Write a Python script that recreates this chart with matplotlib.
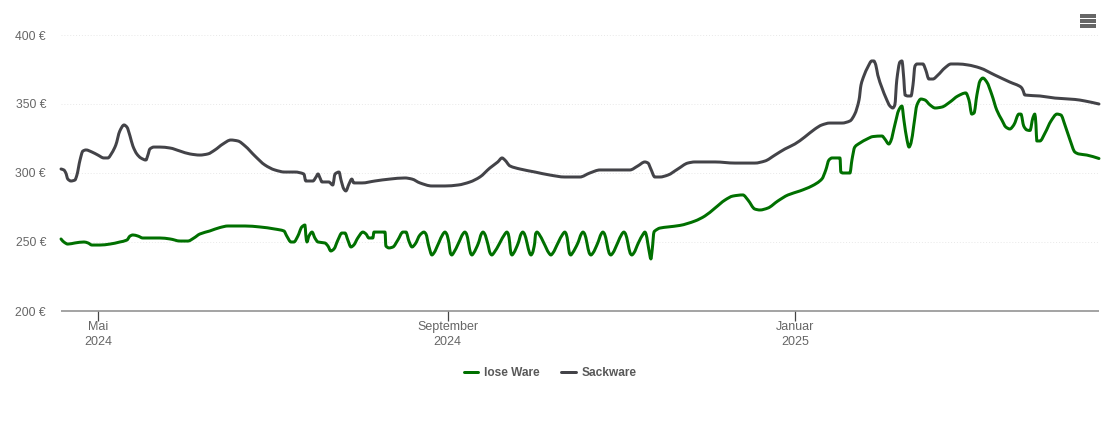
import matplotlib
matplotlib.use("Agg")
import matplotlib.pyplot as plt
from matplotlib.patches import Rectangle, PathPatch
from matplotlib.path import Path

plt.rcParams['font.family'] = ['Liberation Sans', 'DejaVu Sans']

# x values: days since 1 May 2024, y values: euro
tick_days = [0, 123.2, 245.4]
tick_labels = ["Mai\n2024", "September\n2024", "Januar\n2025"]
y_ticks = [200, 250, 300, 350, 400]
y_labels = ["200 €", "250 €", "300 €", "350 €", "400 €"]

sack_days = [-13, -12, -11.3, -10.6, -9.5, -8.1, -7.4, -6.3, -5.3, -4.2, -2.1, 0, 2.1, 3.5, 4.9, 6.3, 7.7, 9.2, 10.2, 11.3,
             12.3, 13.7, 15.1, 16.9, 17.6, 18.3, 19.7, 21.8, 25.4, 28.9, 32.4, 35.9, 38.7, 41.2, 44, 46.8, 49.3, 51.8, 55.3, 58.8,
             62.3, 65.8, 69.4, 72.5, 73.2, 75.7, 76.8, 77.5, 78.2, 78.9, 81.3, 82.7, 83.5, 84.9, 85.6, 86.6, 87.3, 88.4, 89.4, 90.1,
             93, 97.5, 102.8, 108.1, 110.6, 113.4, 117.6, 122.2, 126.8, 131, 134.5, 138, 140.8, 142.3, 143.3, 145.1, 148.6, 153.9, 159.2, 164.4,
             169.7, 173.2, 176.8, 187.3, 190.1, 192.6, 193.7, 194.7, 196.1, 197.9, 200.7, 204.2, 207.7, 210.2, 217.3, 224.3, 231.3, 234.9, 238.4, 241.9,
             245.4, 248.9, 252.5, 254.9, 257.7, 262, 264.8, 266.5, 268, 268.7, 269.7, 271.1, 272.5, 273.2, 273.9, 274.6, 276.1, 277.5, 278.9, 279.9,
             280.6, 281.3, 282.4, 283.1, 283.8, 284.2, 285.2, 286.3, 287, 287.7, 288.4, 290.5, 291.5, 292.6, 294, 295.8, 298.2, 300.4, 302.8, 306.3,
             310.6, 315.8, 321.1, 325, 325.7, 326.4, 331.7, 337, 344, 347.5, 352.5]
sack_euro = [302.9, 302.2, 300, 295.6, 294.2, 294.9, 298.5, 309.4, 315.9, 316.7, 315.2, 313, 310.9, 310.9, 314.5, 320.3, 330.4, 334.8, 333.3, 326.8,
             319.6, 313.8, 310.9, 309.4, 313, 317.4, 318.8, 318.8, 318.1, 315.9, 313.8, 313, 313.8, 316.7, 321, 323.9, 323.2, 319.6, 312.3, 305.8,
             302.2, 300.7, 300.7, 299.3, 294.2, 294.2, 297.1, 299.3, 296.4, 293.5, 293.5, 291.3, 299.3, 300.7, 294.9, 288.4, 287, 292, 295.6, 292.8,
             292.8, 294.2, 295.6, 296.4, 295.6, 292.8, 290.6, 290.6, 291.3, 293.5, 297.1, 303.6, 308, 310.9, 309.4, 305.1, 302.9, 300.7, 298.5, 297.1,
             297.1, 300, 302.2, 302.2, 305.1, 308, 307.2, 302.9, 297.1, 297.1, 298.5, 302.9, 307.2, 308, 308, 307.2, 307.2, 308.7, 313, 317.4,
             321, 326.1, 331.9, 334.8, 336.2, 336.2, 337.7, 342.7, 352.9, 363.8, 370.3, 376.8, 381.2, 381.2, 378.3, 371, 361.6, 354.3, 348.5, 347.1,
             349.3, 367.4, 380.4, 381.2, 367.4, 356.5, 355.8, 355.8, 363.8, 377.5, 379, 379, 374.6, 368.1, 368.1, 371, 376.1, 379, 379, 378.3,
             376.1, 371, 365.9, 362.3, 360.1, 356.5, 355.8, 354.3, 353.3, 352.2, 350]

lose_days = [-13, -12, -10.6, -8.1, -4.9, -3.5, -2.1, 0.7, 4.2, 7.7, 10.2, 11.3, 12.3, 14.1, 15.8, 21.8, 25.4, 28.9, 31.7, 33.8,
             35.9, 39.4, 43, 45.8, 51.8, 57, 62.3, 65.5, 66.5, 68, 69, 70.4, 71.8, 72.9, 73.2, 73.6, 74.3, 75.4, 76.4, 77.5,
             79.9, 81, 82, 83.1, 84.5, 85.9, 87, 88, 89.1, 90.1, 91.5, 93.3, 94.4, 95.4, 96.8, 97.2, 101.1, 101.4, 102.5, 103.9,
             105.6, 107.4, 108.5, 109.5, 110.6, 111.7, 113.4, 114.8, 115.5, 116.5, 117.6,
             118.3, 120, 121.5, 122.2, 122.8, 123.6, 124.1, 124.6, 125.2, 127, 128.5, 129.2, 129.8, 130.5, 131.2, 131.7, 132.3, 134, 135, 135.6,
             136.2, 137.2, 138.1, 138.7, 139.4, 141.5, 143.3, 144, 144.5, 145, 145.4, 145.8, 146.4, 148, 149, 149.6, 150.2, 151.1, 152, 152.5,
             153, 153.8, 154.1, 154.6, 155.3, 157, 158.8, 159.5, 160.2, 162, 163.7, 164.4, 164.9, 165.5, 166, 166.5, 167.1, 169, 170.2, 170.8,
             171.4, 172.2, 173, 173.6, 174.3, 176, 177.2, 177.8, 178.4, 179.2, 180, 180.6, 181.3, 183, 184.5, 185.2, 185.8, 186.6, 187.4, 188,
             188.7, 190.3, 192, 192.6, 193, 193.6, 194.3, 194.7, 195.2, 195.8,
             196.1, 197.9, 200.7, 204.9, 210.2, 213.7, 217.3, 220.8, 223.6, 227.1, 228.9, 231.3, 233.1, 235.9, 239.4, 243, 247.2, 251.4, 254.9, 256.3,
             257.4, 258.5, 261.3, 261.6, 262.3, 264.8, 265.5, 266.5, 268.3, 270.8, 272.9, 276.1, 277.1, 278.5, 279.2, 280.6, 282, 283.1, 283.8, 284.9,
             285.6, 286.3, 287.3, 288.4, 289.8, 291.2, 293, 294.8, 297.2, 300, 302.8, 305.6, 306.7, 307.7, 308.5, 309.5, 310.6, 311.6, 313, 314.8,
             316.5, 318.3, 319.7, 321.1, 322.5, 324.3, 325, 326, 327.1, 328.2, 329.2, 329.9, 330.3, 330.6, 331.7, 333.5, 335.6, 337.7, 339.1, 340.5,
             342.3, 344, 345.4, 348.2, 352.5]
lose_euro = [252.2, 250, 248.5, 249.3, 250, 249.3, 247.8, 247.8, 248.5, 250, 251.4, 254.3, 255.1, 254.3, 252.9, 252.9, 252.2, 250.7, 250.7, 252.9,
             255.8, 258, 260.5, 261.6, 261.6, 260.9, 259.4, 258, 254.3, 250, 250, 254.3, 260.9, 262.3, 255.1, 250, 254.3, 257.2, 252.9, 250,
             249.3, 247.1, 243.5, 244.9, 251.4, 256.5, 256.5, 251.4, 246.4, 247.8, 252.9, 257.2, 255.8, 252.9, 252.9, 257.2, 257.2, 247.1, 245.7, 246.4,
             251.4, 257.2, 257.2, 250.7, 246.4, 248.5, 255.1, 257.2, 255.8, 247.1, 240.6,
             242, 249.3, 255.8, 257.2, 255.8, 249.3, 242, 240.6, 242, 249.3, 255.8, 257.2, 255.8, 249.3, 242, 240.6, 242, 249.3, 255.8, 257.2,
             255.8, 249.3, 242, 240.6, 242, 249.3, 255.8, 257.2, 255.8, 249.3, 242, 240.6, 242, 249.3, 255.8, 257.2, 255.8, 249.3, 242, 240.6,
             242, 249.3, 255.8, 257.2, 255.8, 249.3, 242, 240.6, 242, 249.3, 255.8, 257.2, 255.8, 249.3, 242, 240.6, 242, 249.3, 255.8, 257.2,
             255.8, 249.3, 242, 240.6, 242, 249.3, 255.8, 257.2, 255.8, 249.3, 242, 240.6, 242, 249.3, 255.8, 257.2, 255.8, 249.3, 242, 240.6,
             242, 249.3, 255.8, 257.2, 255.8, 249.3, 241, 237.7, 245, 257.2,
             258, 260.1, 260.9, 262, 265.2, 268.8, 274.6, 280.4, 283.3, 284.1, 280.4, 273.9, 273.2, 274.6, 279.7, 284.1, 287, 290.6, 295.6, 302.2,
             309.4, 310.9, 310.9, 300.7, 300, 300, 309.4, 318.8, 321.7, 324.6, 326.4, 326.8, 324.6, 321, 323.2, 334.8, 345.6, 348.5, 338.4, 323.9,
             318.8, 321.7, 334.8, 349.3, 353.6, 352.9, 349.3, 347.1, 347.8, 351.4, 355.8, 358, 352.9, 342.7, 343.5, 356.5, 366.7, 368.8, 365.9, 356.5,
             345.6, 338.4, 333.3, 331.9, 334.8, 342.7, 342.7, 334, 331.2, 330.8, 339.8, 342.7, 334.8, 323.2, 323.2, 329, 337.7, 342.7, 342, 334.8,
             323.9, 315.2, 313.8, 313, 310.5]


def spline_path(xs, ys):
    """Curve through the read points (like a chart 'spline' series): Bezier segments, no overshoot."""
    n = len(xs)
    d = [(ys[i + 1] - ys[i]) / (xs[i + 1] - xs[i]) for i in range(n - 1)]
    m = [d[0]] + [0.0] * (n - 2) + [d[-1]]
    for i in range(1, n - 1):
        if d[i - 1] * d[i] > 0:
            m[i] = 2 * d[i - 1] * d[i] / (d[i - 1] + d[i])
    verts = [(xs[0], ys[0])]
    codes = [Path.MOVETO]
    for i in range(n - 1):
        h = xs[i + 1] - xs[i]
        verts += [(xs[i] + h / 3, ys[i] + m[i] * h / 3),
                  (xs[i + 1] - h / 3, ys[i + 1] - m[i + 1] * h / 3),
                  (xs[i + 1], ys[i + 1])]
        codes += [Path.CURVE4] * 3
    return Path(verts, codes)


W, H = 1110, 422
fig = plt.figure(figsize=(W / 100, H / 100), dpi=100, facecolor="white")
left, right, top, bottom = 61, 1099, 35, 311
ax = fig.add_axes([left / W, 1 - bottom / H, (right - left) / W, (bottom - top) / H])
ax.set_xlim(-13, 352.5)
ax.set_ylim(200, 400)

GREEN = "#007000"
DARK = "#434348"
lw = 3 * 0.72

for xs, ys, col, name in [(lose_days, lose_euro, GREEN, "lose Ware"), (sack_days, sack_euro, DARK, "Sackware")]:
    ax.add_patch(PathPatch(spline_path(xs, ys), facecolor="none", edgecolor=col, lw=lw, clip_on=False,
                           joinstyle="round", capstyle="round", zorder=3))
    ax.plot([], [], color=col, lw=lw, label=name, solid_capstyle="round")

for s in ["top", "left", "right"]:
    ax.spines[s].set_visible(False)
ax.spines["bottom"].set_color("#8a8a8a")
ax.spines["bottom"].set_linewidth(1.1)
ax.spines["bottom"].set_capstyle("butt")

ax.set_yticks(y_ticks)
ax.set_yticklabels(y_labels)
ax.tick_params(axis="y", length=0, pad=10.8, labelsize=8.7, labelcolor="#666666")
ax.set_xticks(tick_days)
ax.set_xticklabels(tick_labels, linespacing=1.25)
ax.tick_params(axis="x", length=7.2, width=0.9, color="#444444", pad=0.2, labelsize=9, labelcolor="#666666")
ax.grid(axis="y", color="#e8e8e8", lw=0.7, ls=(0, (1, 2)))
ax.set_axisbelow(True)

leg = fig.legend(loc="center", bbox_to_anchor=(550 / W, 1 - 373 / H), ncol=2, frameon=False,
                 prop={"size": 8.6, "weight": "bold"}, handlelength=1.22, handletextpad=0.45,
                 columnspacing=1.85, borderpad=0)
for t in leg.get_texts():
    t.set_color("#595959")

# menu icon
for yy in (16, 21, 26):
    fig.add_artist(Rectangle((1080 / W, 1 - (yy + 1.5) / H), 16 / W, 3 / H, transform=fig.transFigure,
                             facecolor="#666666", edgecolor="none"))

fig.savefig("out.png", dpi=100, facecolor="white")
